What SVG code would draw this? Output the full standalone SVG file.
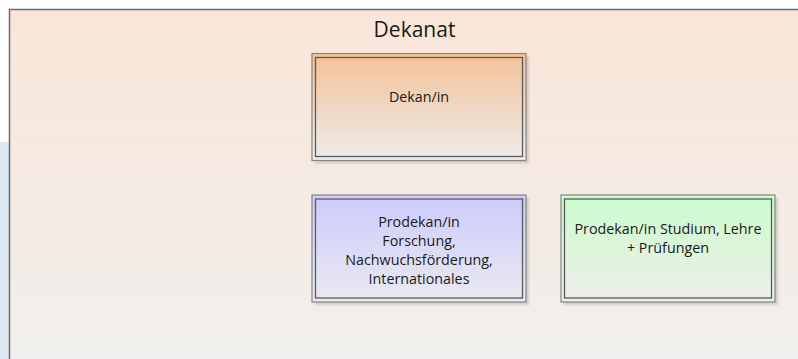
<svg xmlns="http://www.w3.org/2000/svg" width="798" height="359" viewBox="0 0 798 359">
  <defs>
    <linearGradient id="gContainer" x1="0" y1="0" x2="0" y2="1">
      <stop offset="0" stop-color="#f9e6d8"/>
      <stop offset="1" stop-color="#f0efed"/>
    </linearGradient>
    <linearGradient id="gOrange" x1="0" y1="0" x2="0" y2="1">
      <stop offset="0" stop-color="#f3c198"/>
      <stop offset="1" stop-color="#eeedec"/>
    </linearGradient>
    <linearGradient id="gBlue" x1="0" y1="0" x2="0" y2="1">
      <stop offset="0" stop-color="#cccbfc"/>
      <stop offset="1" stop-color="#ebeaf0"/>
    </linearGradient>
    <linearGradient id="gGreen" x1="0" y1="0" x2="0" y2="1">
      <stop offset="0" stop-color="#ccfccc"/>
      <stop offset="1" stop-color="#eeeeea"/>
    </linearGradient>
    <filter id="soft" x="-5%" y="-5%" width="110%" height="110%">
      <feGaussianBlur stdDeviation="1"/>
    </filter>
  </defs>
  <style>
    .label { font-family: "Open Sans", "Liberation Sans", sans-serif; fill: #1a1a1a; text-anchor: middle; }
    .title { font-size: 21px; }
    .body { font-size: 14.3px; }
    .shadow { fill: #000000; opacity: 0.13; filter: url(#soft); }
    .frame { stroke: #858585; stroke-width: 1.2; }
    .inner { fill: none; stroke: #5a5a5a; stroke-width: 1.3; }
  </style>

  <!-- page background and side strip -->
  <rect x="0" y="0" width="798" height="359" fill="#ffffff"/>
  <rect x="0" y="142" width="10" height="217" fill="#dde8f2"/>

  <!-- Dekanat container -->
  <g id="dekanat">
    <rect x="9.5" y="9.5" width="800" height="360" fill="url(#gContainer)" stroke="#6a6a6a" stroke-width="1.5"/>
    <text class="label title" x="414.5" y="36.5">Dekanat</text>
  </g>

  <!-- Dekan/in -->
  <g id="dekan">
    <rect class="shadow" x="315" y="56.5" width="214" height="107"/>
    <rect class="frame" x="312" y="53.5" width="214" height="107" fill="url(#gOrange)"/>
    <rect class="inner" x="315.5" y="57.5" width="207" height="99"/>
    <text class="label body" x="419" y="101.5">Dekan/in</text>
  </g>

  <!-- Prodekan/in Forschung -->
  <g id="prodekan-forschung">
    <rect class="shadow" x="315" y="198" width="214" height="107"/>
    <rect class="frame" x="312" y="195" width="214" height="107" fill="url(#gBlue)"/>
    <rect class="inner" x="315.5" y="199" width="207" height="99"/>
    <text class="label body" x="419" y="226.5">Prodekan/in</text>
    <text class="label body" x="419" y="245.5">Forschung,</text>
    <text class="label body" x="419" y="264.5">Nachwuchsförderung,</text>
    <text class="label body" x="419" y="283.5">Internationales</text>
  </g>

  <!-- Prodekan/in Studium -->
  <g id="prodekan-studium">
    <rect class="shadow" x="564" y="198" width="214" height="107"/>
    <rect class="frame" x="561" y="195" width="214" height="107" fill="url(#gGreen)"/>
    <rect class="inner" x="564.5" y="199" width="207" height="99"/>
    <text class="label body" x="668" y="233.5">Prodekan/in Studium, Lehre</text>
    <text class="label body" x="668" y="253">+ Prüfungen</text>
  </g>

  <!-- no connectors between the nodes -->
  <g id="connectors"/>
</svg>
